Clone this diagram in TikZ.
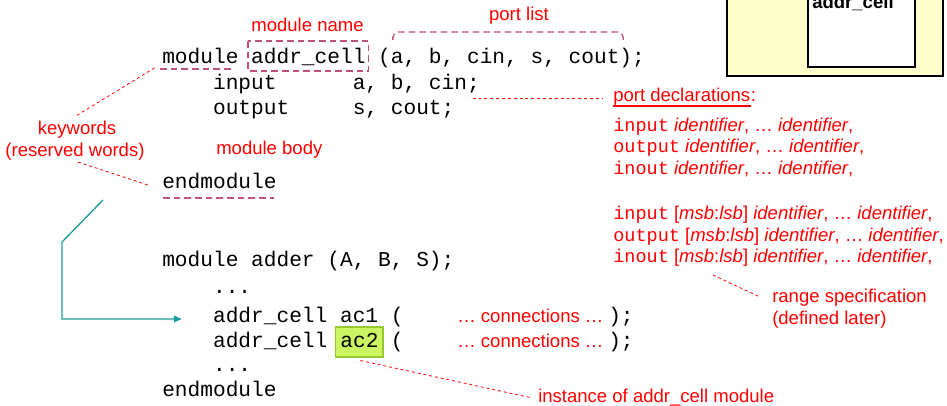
\documentclass[tikz,border=0pt]{standalone}
\usepackage{fontspec}
\setmainfont{Liberation Sans}
\newfontfamily\codefont{Liberation Mono}
\usetikzlibrary{calc,arrows.meta}
\definecolor{mauve}{RGB}{193,80,125}
\definecolor{tealc}{RGB}{30,155,160}
\definecolor{greenfill}{RGB}{204,245,100}
\definecolor{greenline}{RGB}{150,200,50}
\definecolor{paleyellow}{RGB}{255,255,204}
\begin{document}
\begin{tikzpicture}[x=0.75pt,y=-0.75pt,
  code/.style={anchor=base west,inner sep=0pt,font=\codefont\fontsize{15.875pt}{19pt}\selectfont,text=black},
  note/.style={anchor=base west,inner sep=0pt,font=\fontsize{13.9pt}{17pt}\selectfont,text=red},
  notec/.style={note,anchor=base},
  reddash/.style={draw=red,line width=0.6pt,dash pattern=on 2.2pt off 2.2pt},
  mauvedash/.style={draw=mauve,line width=1pt,dash pattern=on 5pt off 3pt},
  frame/.style={draw=black,line width=1.5pt,inner sep=0pt,anchor=south west},
]
\useasboundingbox (0,0) rectangle (947,406);

% top-right module picture (partly cut off)
\node[frame,fill=paleyellow,minimum width=162pt,minimum height=65.25pt] (outer) at (726,77) {};
\node[frame,fill=white,minimum width=80.25pt,minimum height=58.5pt] (inner) at (807,68) {};
\node[anchor=base west,inner sep=0pt,font=\bfseries\fontsize{13.9pt}{17pt}\selectfont] (cellname) at (812,9) {addr\_cell};

% first module
\node[code] (l1a) at (162,64) {module};
\node[code] (l1b) at (250.9,64) {addr\_cell};
\node[code] (l1c) at (377.9,64) {(a, b, cin, s, cout);};
\node[code] (l2) at (212.8,90) {input\ \ \ \ \ \ a, b, cin;};
\node[code] (l3) at (212.8,115) {output\ \ \ \ \ s, cout;};
\node[code] (l4) at (162,189) {endmodule};

% second module
\node[code] (m2) at (162,267) {module adder (A, B, S);};
\node[code] (d1) at (212.8,294) {...};
\node[code] (i1) at (212.8,322) {addr\_cell ac1 (};
\node[code] (i1e) at (608,322) {);};
\node[code] (i2) at (212.8,347) {addr\_cell};
\node[code,fill=greenfill,draw=greenline,line width=0.8pt,inner xsep=3.4pt,inner ysep=0pt,text height=15pt,text depth=7.5pt] (ac2) at (335.3,347) {ac2};
\node[code] (i2p) at (390.6,347) {(};
\node[code] (i2e) at (608,347) {);};
\node[code] (d2) at (212.8,372) {...};
\node[code] (m2e) at (162,397) {endmodule};

\node[note] (c1) at (457,322) {… connections …};
\node[note] (c2) at (457,347) {… connections …};

% annotations
\node[notec] (mname) at (307.5,32) {module name};
\node[notec] (plist) at (519,21) {port list};
\node[notec] (kw1) at (77,135) {keywords};
\node[notec] (kw2) at (75,157) {(reserved words)};
\node[note] (mbody) at (216,155) {module body};

\node[note] (pdecl) at (613,102) {port declarations};
\node[note] (pcolon) at (pdecl.base east) {:};
\draw[red,line width=1.5pt] ($(pdecl.base west)+(0,4)$) -- ($(pdecl.base east)+(0,4)$);

\node[note] (pd1) at (613,132) {{\codefont input} \textit{identifier}, … \textit{identifier},};
\node[note] (pd2) at (613,153) {{\codefont output} \textit{identifier}, … \textit{identifier},};
\node[note] (pd3) at (613,175) {{\codefont inout} \textit{identifier}, … \textit{identifier},};
\node[note] (pd4) at (613,220) {{\codefont input} [\textit{msb}:\textit{lsb}] \textit{identifier}, … \textit{identifier},};
\node[note] (pd5) at (613,242) {{\codefont output} [\textit{msb}:\textit{lsb}] \textit{identifier}, … \textit{identifier},};
\node[note] (pd6) at (613,263) {{\codefont inout} [\textit{msb}:\textit{lsb}] \textit{identifier}, … \textit{identifier},};

\node[note] (rs1) at (772,302) {range specification};
\node[note] (rs2) at (772,325) {(defined later)};
\node[note] (inst) at (538,402.5) {instance of addr\_cell module};

% mauve markings
\draw[mauvedash] ($(l1b.base west)+(-3,-23)$) rectangle ($(l1b.base east)+(3,7)$);
\draw[mauvedash,rounded corners=4pt] ($(l1c.base west)+(15,-24)$) -- ($(l1c.base west)+(15,-32)$) -- ($(l1c.base east)+(-22,-32)$) -- ($(l1c.base east)+(-22,-24)$);
\draw[mauvedash] ($(l1a.base west)+(-2,5)$) -- ($(l1a.base east)+(-5,5)$);
\draw[mauvedash] ($(l4.base west)+(1,9)$) -- ($(l4.base east)+(-3,9)$);

% red dashed leaders
\draw[reddash] ($(kw1.north)+(0,-6)$) -- ($(l1a.base west)+(-6,3)$);
\draw[reddash] ($(kw2.south)+(3,1)$) -- ($(l4.base west)+(-14,-4)$);
\draw[reddash] ($(l3.base east)+(18,-17)$) -- ($(pdecl.base west)+(-11,-4)$);
\draw[reddash] ($(pd6.base west)+(100,12)$) -- ($(rs1.base west)+(-12,-5)$);
\draw[reddash] ($(ac2.south)+(1,3)$) -- ($(inst.base west)+(-8,-5)$);

% teal arrow
\coordinate (tstart) at (103,200);
\coordinate (tbend) at (62,242);
\draw[tealc,line width=1pt,-{Triangle[length=6pt,width=5pt]}] (tstart) -- (tbend) |- ($(i1.base west)+(-31,-3)$);
\end{tikzpicture}
\end{document}
